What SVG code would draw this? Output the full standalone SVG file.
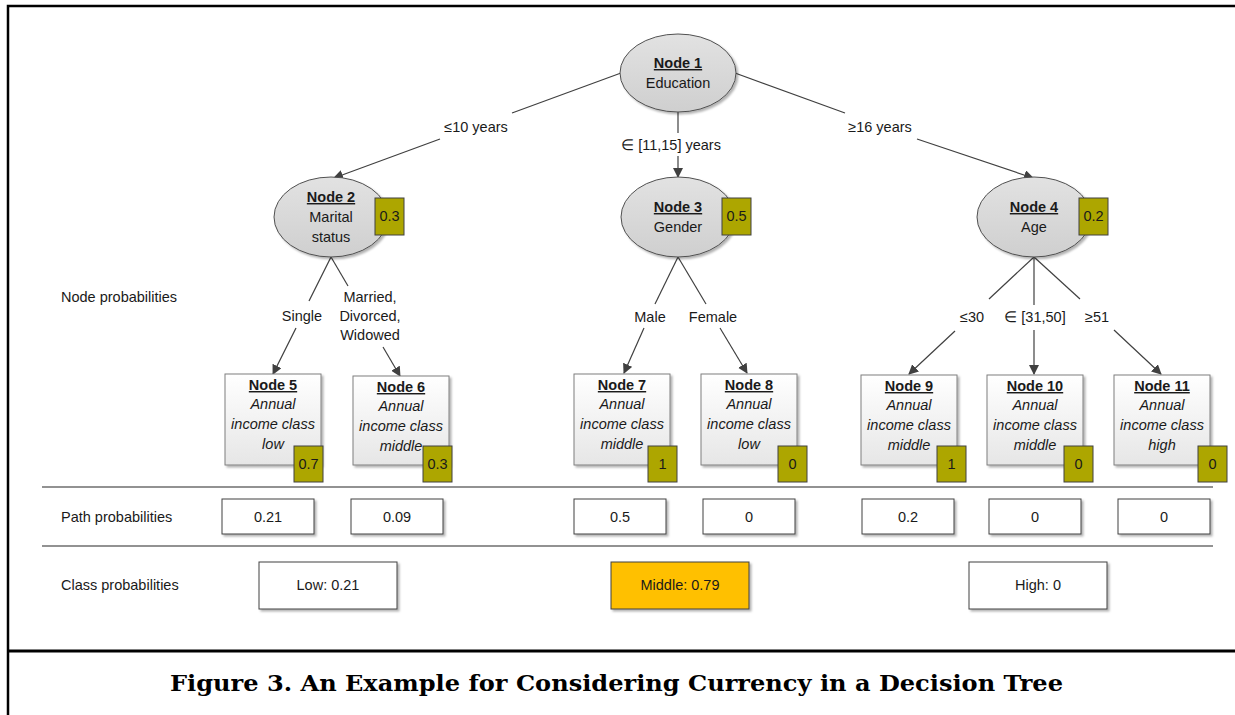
<svg xmlns="http://www.w3.org/2000/svg" width="1235" height="715" viewBox="0 0 1235 715">
<defs>
<linearGradient id="ellG" x1="0" y1="0" x2="0" y2="1"><stop offset="0" stop-color="#e2e2e2"/><stop offset="1" stop-color="#cfcfcf"/></linearGradient>
<linearGradient id="leafG" x1="0" y1="0" x2="0" y2="1"><stop offset="0" stop-color="#ffffff"/><stop offset="1" stop-color="#e6e6e6"/></linearGradient>
<filter id="sh" x="-10%" y="-10%" width="130%" height="130%"><feDropShadow dx="2" dy="2" stdDeviation="1.2" flood-color="#000" flood-opacity="0.3"/></filter>
<marker id="arr" markerWidth="10" markerHeight="10" refX="9" refY="5" orient="auto" markerUnits="userSpaceOnUse"><path d="M0,0 L10,5 L0,10 z" fill="#404040"/></marker>
</defs>
<style>
text{font-family:"Liberation Sans",Arial,sans-serif;font-size:14.5px;fill:#1a1a1a;}
.c{text-anchor:middle;}
.b{font-weight:bold;text-decoration:underline;}
.i{font-style:italic;}
.ell{fill:url(#ellG);stroke:#505050;stroke-width:1;filter:url(#sh);}
.leaf{fill:url(#leafG);stroke:#7f7f7f;stroke-width:1;filter:url(#sh);}
.badge{fill:#ada600;stroke:#404040;stroke-width:1;}
.pb{fill:#ffffff;stroke:#404040;stroke-width:1;filter:url(#sh);}
.edge{stroke:#404040;stroke-width:1.2;fill:none;}
.ea{stroke:#404040;stroke-width:1.2;fill:none;marker-end:url(#arr);}
.rule{stroke:#262626;stroke-width:1.2;}
</style>
<rect width="1235" height="715" fill="#ffffff"/>
<g id="frame">
<path d="M8,715 L8,6 L1235,6" fill="none" stroke="#000" stroke-width="2.5"/>
<line x1="8" y1="651" x2="1235" y2="651" stroke="#000" stroke-width="3"/>
<line class="rule" x1="42" y1="487" x2="1213" y2="487"/>
<line class="rule" x1="42" y1="546" x2="1213" y2="546"/>
</g>
<g id="connectors">
<line class="edge" x1="621" y1="73" x2="512" y2="113"/>
<line class="ea" x1="440" y1="139" x2="334" y2="178"/>
<line class="edge" x1="678" y1="112" x2="678" y2="133"/>
<line class="ea" x1="678" y1="156" x2="678" y2="177"/>
<line class="edge" x1="735" y1="73" x2="845" y2="113"/>
<line class="ea" x1="917" y1="139" x2="1033" y2="178"/>
<line class="edge" x1="331" y1="257" x2="309" y2="301"/>
<line class="ea" x1="296" y1="328" x2="273" y2="374"/>
<line class="edge" x1="331" y1="257" x2="348" y2="286"/>
<line class="ea" x1="383" y1="347" x2="400" y2="376"/>
<line class="edge" x1="678" y1="257" x2="655" y2="304"/>
<line class="ea" x1="644" y1="328" x2="624" y2="373"/>
<line class="edge" x1="678" y1="257" x2="706" y2="304"/>
<line class="ea" x1="720" y1="328" x2="747" y2="373"/>
<line class="edge" x1="1034" y1="257" x2="989" y2="299"/>
<line class="ea" x1="955" y1="331" x2="909" y2="374"/>
<line class="edge" x1="1034" y1="257" x2="1034" y2="305"/>
<line class="ea" x1="1034" y1="330" x2="1034" y2="374"/>
<line class="edge" x1="1034" y1="257" x2="1080" y2="299"/>
<line class="ea" x1="1114" y1="330" x2="1161" y2="374"/>
<text class="c" x="476" y="132">≤10 years</text>
<text class="c" x="671" y="150">∈ [11,15] years</text>
<text class="c" x="880" y="132">≥16 years</text>
<text class="c" x="302" y="321">Single</text>
<text class="c" x="370" y="302">Married,</text>
<text class="c" x="370" y="321">Divorced,</text>
<text class="c" x="370" y="340">Widowed</text>
<text class="c" x="650" y="322">Male</text>
<text class="c" x="713" y="322">Female</text>
<text class="c" x="972" y="322">≤30</text>
<text class="c" x="1035" y="322">∈ [31,50]</text>
<text class="c" x="1097" y="322">≥51</text>
</g>
<g id="labels">
<text x="61" y="302">Node probabilities</text>
<text x="61" y="522">Path probabilities</text>
<text x="61" y="590">Class probabilities</text>
</g>
<g id="node1">
<ellipse class="ell" cx="678" cy="73" rx="58" ry="39"/>
<text class="c b" x="678" y="68">Node 1</text>
<text class="c" x="678" y="88">Education</text>
</g>
<g id="node2">
<ellipse class="ell" cx="331" cy="217" rx="57" ry="40"/>
<text class="c b" x="331" y="202">Node 2</text>
<text class="c" x="331" y="222">Marital</text>
<text class="c" x="331" y="242">status</text>
<rect class="badge" x="375" y="198" width="29" height="37"/>
<text class="c" x="389.5" y="221">0.3</text>
</g>
<g id="node3">
<ellipse class="ell" cx="678" cy="217" rx="57" ry="40"/>
<text class="c b" x="678" y="212">Node 3</text>
<text class="c" x="678" y="232">Gender</text>
<rect class="badge" x="722" y="198" width="29" height="37"/>
<text class="c" x="736.5" y="221">0.5</text>
</g>
<g id="node4">
<ellipse class="ell" cx="1034" cy="217" rx="57" ry="40"/>
<text class="c b" x="1034" y="212">Node 4</text>
<text class="c" x="1034" y="232">Age</text>
<rect class="badge" x="1079" y="198" width="29" height="37"/>
<text class="c" x="1093.5" y="221">0.2</text>
</g>
<g id="node5">
<rect class="leaf" x="225" y="374" width="96" height="91"/>
<text class="c b" x="273" y="390">Node 5</text>
<text class="c i" x="273" y="409">Annual</text>
<text class="c i" x="273" y="429">income class</text>
<text class="c i" x="273" y="449">low</text>
<rect class="badge" x="294" y="446" width="29" height="36"/>
<text class="c" x="308.5" y="469">0.7</text>
</g>
<g id="node6">
<rect class="leaf" x="353" y="376" width="96" height="89"/>
<text class="c b" x="401" y="392">Node 6</text>
<text class="c i" x="401" y="411">Annual</text>
<text class="c i" x="401" y="431">income class</text>
<text class="c i" x="401" y="451">middle</text>
<rect class="badge" x="423" y="446" width="29" height="36"/>
<text class="c" x="437.5" y="469">0.3</text>
</g>
<g id="node7">
<rect class="leaf" x="574" y="374" width="96" height="91"/>
<text class="c b" x="622" y="390">Node 7</text>
<text class="c i" x="622" y="409">Annual</text>
<text class="c i" x="622" y="429">income class</text>
<text class="c i" x="622" y="449">middle</text>
<rect class="badge" x="648" y="446" width="29" height="36"/>
<text class="c" x="662.5" y="469">1</text>
</g>
<g id="node8">
<rect class="leaf" x="701" y="374" width="96" height="91"/>
<text class="c b" x="749" y="390">Node 8</text>
<text class="c i" x="749" y="409">Annual</text>
<text class="c i" x="749" y="429">income class</text>
<text class="c i" x="749" y="449">low</text>
<rect class="badge" x="778" y="446" width="29" height="36"/>
<text class="c" x="792.5" y="469">0</text>
</g>
<g id="node9">
<rect class="leaf" x="861" y="375" width="96" height="90"/>
<text class="c b" x="909" y="391">Node 9</text>
<text class="c i" x="909" y="410">Annual</text>
<text class="c i" x="909" y="430">income class</text>
<text class="c i" x="909" y="450">middle</text>
<rect class="badge" x="937" y="446" width="29" height="36"/>
<text class="c" x="951.5" y="469">1</text>
</g>
<g id="node10">
<rect class="leaf" x="987" y="375" width="96" height="90"/>
<text class="c b" x="1035" y="391">Node 10</text>
<text class="c i" x="1035" y="410">Annual</text>
<text class="c i" x="1035" y="430">income class</text>
<text class="c i" x="1035" y="450">middle</text>
<rect class="badge" x="1064" y="446" width="29" height="36"/>
<text class="c" x="1078.5" y="469">0</text>
</g>
<g id="node11">
<rect class="leaf" x="1114" y="375" width="96" height="90"/>
<text class="c b" x="1162" y="391">Node 11</text>
<text class="c i" x="1162" y="410">Annual</text>
<text class="c i" x="1162" y="430">income class</text>
<text class="c i" x="1162" y="450">high</text>
<rect class="badge" x="1198" y="446" width="29" height="36"/>
<text class="c" x="1212.5" y="469">0</text>
</g>
<g id="path-probabilities">
<rect class="pb" x="222" y="499" width="92" height="35"/><text class="c" x="268" y="522">0.21</text>
<rect class="pb" x="351" y="499" width="92" height="35"/><text class="c" x="397" y="522">0.09</text>
<rect class="pb" x="574" y="499" width="92" height="35"/><text class="c" x="620" y="522">0.5</text>
<rect class="pb" x="703" y="499" width="92" height="35"/><text class="c" x="749" y="522">0</text>
<rect class="pb" x="862" y="499" width="92" height="35"/><text class="c" x="908" y="522">0.2</text>
<rect class="pb" x="989" y="499" width="92" height="35"/><text class="c" x="1035" y="522">0</text>
<rect class="pb" x="1118" y="499" width="92" height="35"/><text class="c" x="1164" y="522">0</text>
</g>
<g id="class-probabilities">
<rect class="pb" x="259" y="562" width="138" height="47"/><text class="c" x="328" y="590">Low: 0.21</text>
<rect class="pb" x="611" y="562" width="138" height="47" style="fill:#ffc000"/><text class="c" x="680" y="590">Middle: 0.79</text>
<rect class="pb" x="969" y="562" width="138" height="47"/><text class="c" x="1038" y="590">High: 0</text>
</g>
<g id="caption">
<text x="170" y="691" textLength="893" lengthAdjust="spacingAndGlyphs" style="font-family:'DejaVu Serif','Liberation Serif',serif;font-weight:bold;font-size:22px;fill:#000">Figure 3. An Example for Considering Currency in a Decision Tree</text>
</g>
</svg>
